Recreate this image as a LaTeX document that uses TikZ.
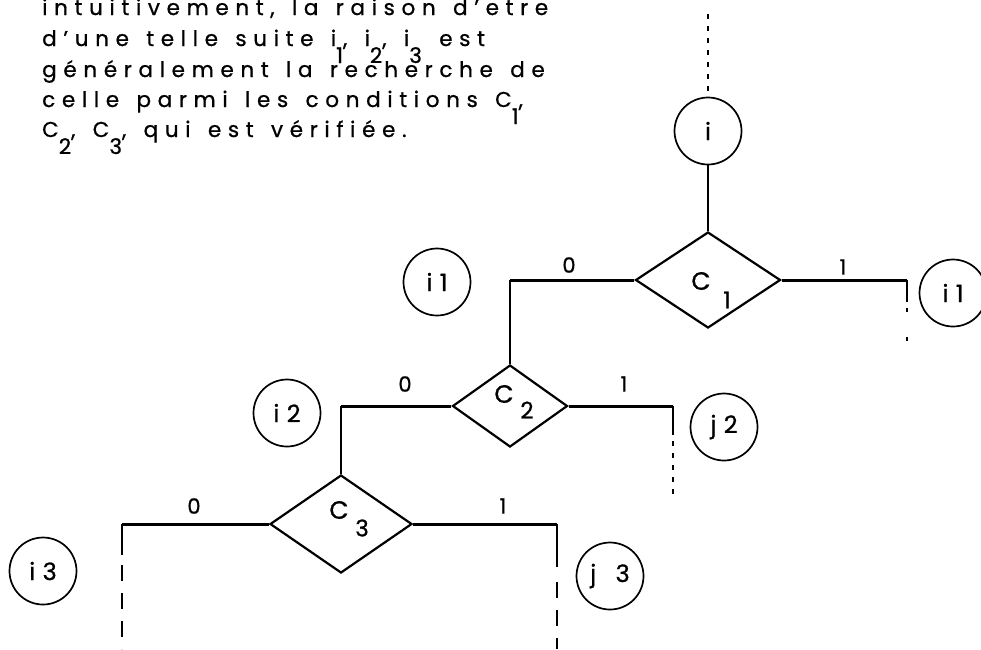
\documentclass[tikz,border=0pt]{standalone}
\usepackage{fontspec}
\setmainfont{Poppins}[LetterSpace=31, WordSpace=1.4, FakeBold=0.8]
\usetikzlibrary{shapes.geometric}
\newcommand{\dnsub}[1]{\raisebox{-17pt}{#1}}
\begin{document}
\begin{tikzpicture}[x=1pt,y=-1pt,
  txt/.style={anchor=base west, inner sep=0pt, font=\fontsize{21.5}{21.5}\selectfont},
  circ/.style={draw, circle, line width=1.7pt, minimum size=67pt, inner sep=0pt, font=\fontsize{24}{24}\selectfont},
  dia/.style={draw, diamond, line width=2.2pt, inner sep=0pt},
  clab/.style={inner sep=0pt, font=\fontsize{25}{25}\selectfont},
  csub/.style={inner sep=0pt, font=\fontsize{23}{23}\selectfont},
  lab/.style={inner sep=0pt, font=\fontsize{21}{21}\selectfont},
  br/.style={line width=3pt},
  vert/.style={line width=2.2pt},
  dfine/.style={line width=1.5pt, dash pattern=on 5pt off 7pt},
  dsparse/.style={line width=1.5pt, dash pattern=on 4pt off 25pt},
  dlong/.style={line width=1.7pt, dash pattern=on 16pt off 12pt}
]
\useasboundingbox (0,0) rectangle (981,649);

% text block
\node[txt] (l1) at (42,15) {intuitivement, la raison d'etre};
\node[txt] (l2) at (42,46) {d'une telle suite i\dnsub{1}, i\dnsub{2}, i\dnsub{3} est};
\node[txt] (l3) at (42,77) {généralement la recherche de};
\node[txt] (l4) at (42,107) {celle parmi les conditions C\dnsub{1},};
\node[txt] (l5) at (42,137) {C\dnsub{2}, C\dnsub{3}, qui est vérifiée.};

% circles
\node[circ] (i) at (708,131) {i};
\node[circ] (i1a) at (437,282) {i1};
\node[circ] (i1b) at (953,293) {i1};
\node[circ] (i2) at (287,413) {i2};
\node[circ] (j2) at (724,427) {j2};
\node[circ] (i3) at (43,571) {i3};
\node[circ] (j3) at (610,576) {j 3};

% diamonds
\node[dia, minimum width=145pt, minimum height=96pt] (C1) at (708,280) {};
\node[dia, minimum width=115pt, minimum height=82pt] (C2) at (510,406) {};
\node[dia, minimum width=142pt, minimum height=98pt] (C3) at (341,524) {};

\node[clab] (c1c) at (701,281) {C};
\node[csub] (c1s) at (727,300) {1};
\node[clab] (c2c) at (504,394) {C};
\node[csub] (c2s) at (527,410) {2};
\node[clab] (c3c) at (339,510) {C};
\node[csub] (c3s) at (362,528) {3};

% coordinates
\coordinate (top) at (708,14);
\coordinate (topend) at (708,91);
\coordinate (k1) at (C2.north |- C1.west);
\coordinate (r1) at (907,280);
\coordinate (r1a) at (907,302);
\coordinate (r1c) at (907,308);
\coordinate (r1b) at (907,345);
\coordinate (k2) at (C3.north |- C2.west);
\coordinate (r2) at (673,406);
\coordinate (r2a) at (673,435);
\coordinate (r2c) at (673,441);
\coordinate (r2b) at (673,495);
\coordinate (k3) at (122,524);
\coordinate (k3a) at (122,555);
\coordinate (k3c) at (122,565);
\coordinate (k3b) at (122,649);
\coordinate (r3) at (557,524);
\coordinate (r3a) at (557,567);
\coordinate (r3c) at (557,582);
\coordinate (r3b) at (557,649);

% connectors
\draw[dfine] (top) -- (topend);
\draw[vert] (i.south) -- (C1.north);
\draw[br] (C1.west) -- (k1);
\draw[vert] (k1) -- (C2.north);
\draw[br] (C1.east) -- (r1);
\draw[vert] (r1) -- (r1a);
\draw[dsparse] (r1c) -- (r1b);
\draw[br] (C2.west) -- (k2);
\draw[vert] (k2) -- (C3.north);
\draw[br] (C2.east) -- (r2);
\draw[vert] (r2) -- (r2a);
\draw[dfine] (r2c) -- (r2b);
\draw[br] (C3.west) -- (k3);
\draw[vert] (k3) -- (k3a);
\draw[dlong] (k3c) -- (k3b);
\draw[br] (C3.east) -- (r3);
\draw[vert] (r3) -- (r3a);
\draw[dlong] (r3c) -- (r3b);

% branch labels
\node[lab] (z1) at (569,265) {0};
\node[lab] (o1) at (843,267) {1};
\node[lab] (z2) at (405,384) {0};
\node[lab] (o2) at (624,384) {1};
\node[lab] (z3) at (194,506) {0};
\node[lab] (o3) at (503,506) {1};
\end{tikzpicture}
\end{document}
